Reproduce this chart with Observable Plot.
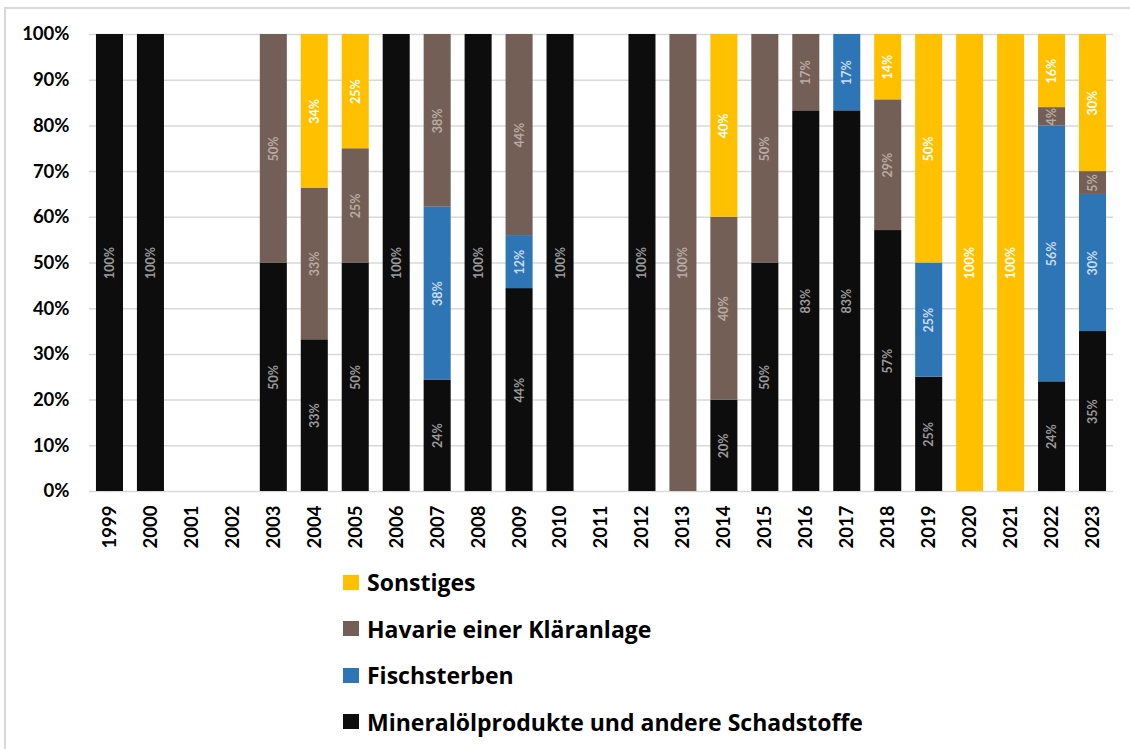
<!DOCTYPE html>
<html>
<head>
<meta charset="utf-8">
<script src="https://cdn.jsdelivr.net/npm/d3@7"></script>
<script src="https://cdn.jsdelivr.net/npm/@observablehq/plot@0.6"></script>
<style>
  html, body { margin: 0; padding: 0; background: #fff; overflow: hidden; width: 1130px; height: 749px; }
  #frame { position: absolute; left: 4px; top: 7px; width: 1200px; height: 800px; border-top: 2px solid #d9d9d9; border-left: 2px solid #d9d9d9; }
  #chart { position: absolute; left: 0; top: 0; }
  .item { position: absolute; left: 343px; display: flex; align-items: center; font-family: "Open Sans", sans-serif; font-weight: bold; font-size: 23px; color: #000; white-space: nowrap; }
  .sw { width: 16px; height: 15px; margin-right: 8px; }
</style>
</head>
<body>
<div id="frame"></div>
<div id="chart"></div>
<div id="legend"></div>
<script>
const years = ["1999","2000","2001","2002","2003","2004","2005","2006","2007","2008","2009","2010","2011","2012","2013","2014","2015","2016","2017","2018","2019","2020","2021","2022","2023"];
const categories = ["Mineralölprodukte und andere Schadstoffe", "Fischsterben", "Havarie einer Kläranlage", "Sonstiges"];
const mineraloel   = [100,100,0,0,50,33.2,50,100,24.4,100,44.4,100,0,100,0,20,50,83.3,83.3,57.1,25,0,0,24,35];
const fischsterben = [0,0,0,0,0,0,0,0,37.8,0,11.6,0,0,0,0,0,0,0,16.7,0,25,0,0,56,30];
const havarie      = [0,0,0,0,50,33.2,25,0,37.8,0,44,0,0,0,100,40,50,16.7,0,28.6,0,0,0,4,5];
const sonstiges    = [0,0,0,0,0,33.6,25,0,0,0,0,0,0,0,0,40,0,0,0,14.3,50,100,100,16,30];
const yTicks = [0,10,20,30,40,50,60,70,80,90,100];

const seriesValues = [mineraloel, fischsterben, havarie, sonstiges];
const barColors = ["#0d0d0d", "#2e75b6", "#735f55", "#ffc000"];
const labelColors = ["#9a9a9a", "#cadcef", "#b8aba3", "#ffffff"];
const colorOf = Object.fromEntries(categories.map((c, i) => [c, barColors[i]]));
const labelColorOf = Object.fromEntries(categories.map((c, i) => [c, labelColors[i]]));

const data = [];
years.forEach((year, i) => {
  categories.forEach((cat, j) => {
    const v = seriesValues[j][i];
    if (v > 0) data.push({year, cat, value: v});
  });
});

const chart = Plot.plot({
  width: 1130,
  height: 560,
  marginTop: 34,
  marginBottom: 69,
  marginLeft: 89,
  marginRight: 17,
  x: {domain: years, paddingInner: 0.34, paddingOuter: 0.17, round: false, label: null},
  y: {domain: [0, 100], label: null},
  color: {type: "identity"},
  style: {fontFamily: "Lato, sans-serif", fontSize: "18px", fontWeight: "bold", color: "#000", background: "transparent", overflow: "visible"},
  marks: [
    Plot.gridY(yTicks, {stroke: "#d9d9d9", strokeOpacity: 1, strokeWidth: 1.5}),
    Plot.axisY(yTicks, {tickSize: 0, tickPadding: 20, tickFormat: d => d + "%", fontSize: 18.5, fontWeight: "bold", label: null}),
    Plot.axisX({tickRotate: -90, tickSize: 0, tickPadding: 14, fontSize: 18.5, fontWeight: "bold", label: null}),
    Plot.barY(data, Plot.stackY({x: "year", y: "value", z: "cat", order: categories, fill: d => colorOf[d.cat]})),
    Plot.text(data, Plot.stackY({
      x: "year", y: "value", z: "cat", order: categories,
      text: d => Math.round(d.value) + "%",
      rotate: -90,
      fill: d => labelColorOf[d.cat],
      fontSize: 12.5,
      fontWeight: "bold"
    }))
  ]
});
document.getElementById("chart").appendChild(chart);

const legend = document.getElementById("legend");
const legendOrder = categories.slice().reverse();
legendOrder.forEach((cat, i) => {
  const item = document.createElement("div");
  item.className = "item";
  item.style.top = (582 + i * 46.5 - 14) + "px";
  item.style.height = "28px";
  const sw = document.createElement("span");
  sw.className = "sw";
  sw.style.background = colorOf[cat];
  const label = document.createElement("span");
  label.textContent = cat;
  item.appendChild(sw);
  item.appendChild(label);
  legend.appendChild(item);
});
</script>
</body>
</html>
